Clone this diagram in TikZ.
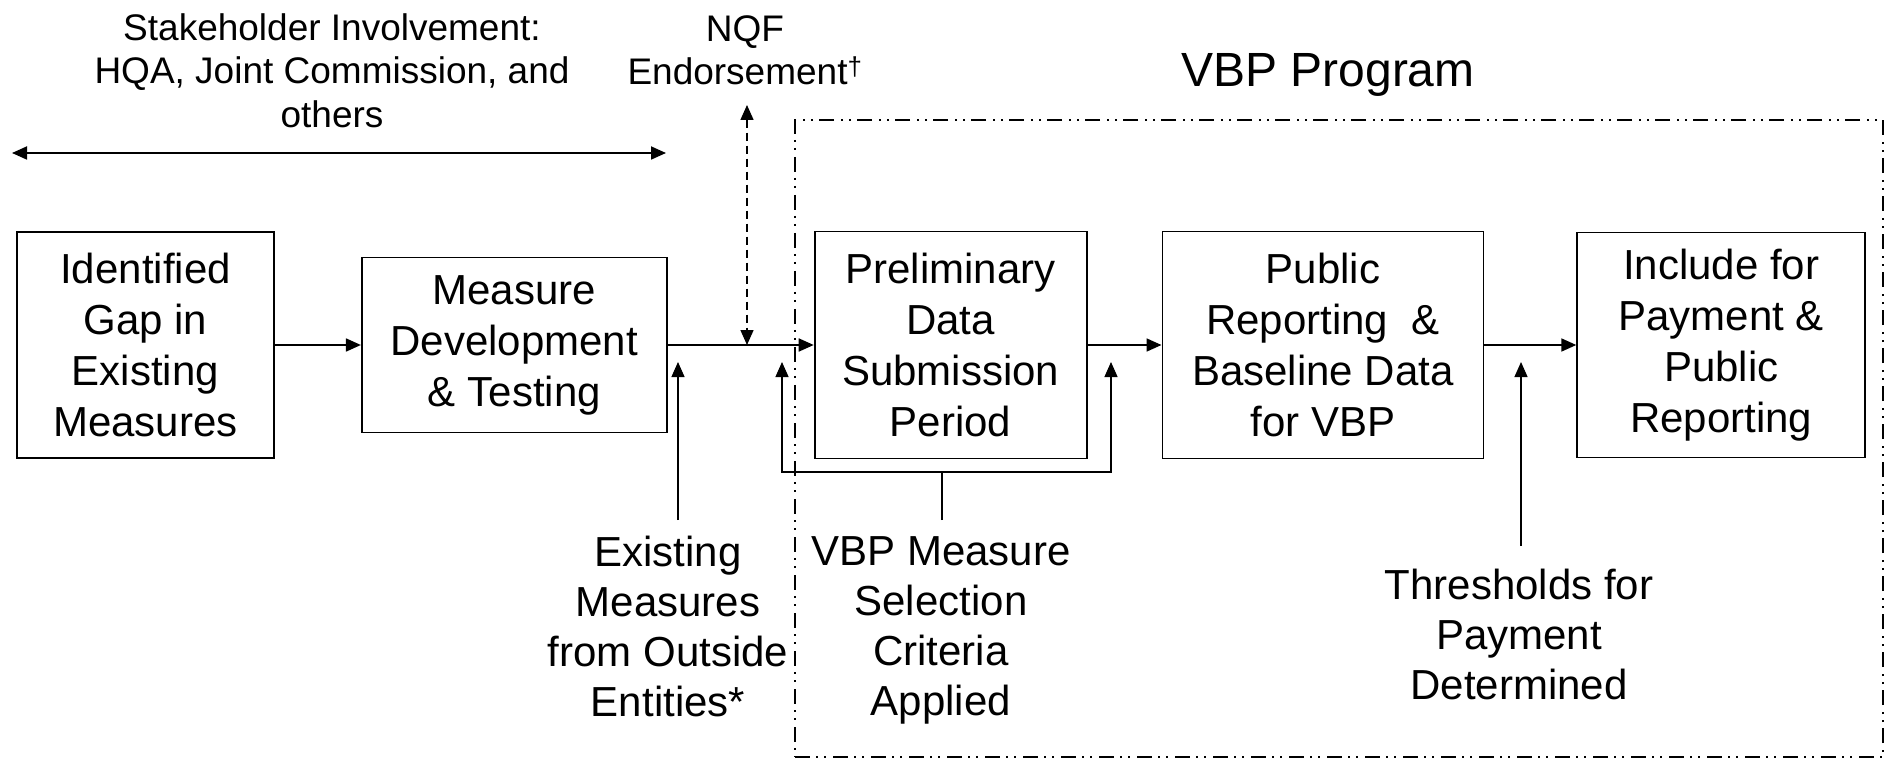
\documentclass[tikz,border=0pt]{standalone}
\usepackage{fontspec}
\setmainfont{Liberation Sans}
\usetikzlibrary{arrows.meta, positioning}
\tikzstyle{process} = [rectangle, draw=black, line width=1.8pt, fill=white, inner sep=0pt, align=center, font=\fontsize{42}{51}\selectfont]
\tikzstyle{note} = [inner sep=0pt, align=center, font=\fontsize{42}{50}\selectfont]
\tikzstyle{topnote} = [inner sep=0pt, align=center, font=\fontsize{37}{43.5}\selectfont]
\tikzstyle{arrow} = [line width=1.8pt, -{Triangle[length=15pt, width=13pt]}]
\tikzstyle{twoway} = [line width=1.8pt, {Triangle[length=15pt, width=13pt]}-{Triangle[length=15pt, width=13pt]}]
\tikzstyle{thinarrow} = [line width=1.2pt, -{Triangle[length=15pt, width=13pt]}]
\tikzstyle{thinline} = [line width=1.2pt]
\tikzstyle{feedback} = [line width=1.2pt, {Triangle[length=15pt, width=13pt]}-{Triangle[length=15pt, width=13pt]}]
\tikzstyle{endorse} = [line width=1.5pt, dash pattern=on 8pt off 5pt, {Triangle[length=15pt, width=13pt]}-{Triangle[length=15pt, width=13pt]}]
\tikzstyle{programframe} = [rectangle, draw=black, line width=1.8pt, dash pattern=on 15pt off 6pt on 2pt off 6pt on 2pt off 7pt, minimum width=1088pt, minimum height=637pt, inner sep=0pt]

\begin{document}
\begin{tikzpicture}[x=1pt, y=-1pt]
        \useasboundingbox (0,0) rectangle (1890,759);

        \node (vbpframe) [programframe] at (1339,438.5) {};
        \node (vbptitle) [anchor=base, inner sep=0pt, font=\fontsize{48}{56}\selectfont] at (1328,87) {VBP Program};

        \node (gap) [process, minimum width=257pt, minimum height=226pt] at (145.5,345) {Identified\\Gap in\\Existing\\Measures};
        \node (dev) [process, minimum width=305pt, minimum height=175pt, right=86pt of gap] {Measure\\Development\\\& Testing};
        \node (prelim) [process, minimum width=272pt, minimum height=227pt, right=146pt of dev] {Preliminary\\Data\\Submission\\Period};
        \node (public) [process, minimum width=321pt, minimum height=227pt, right=74pt of prelim] {Public\\Reporting\ \ \&\\Baseline Data\\for VBP};
        \node (include) [process, minimum width=288pt, minimum height=225pt, right=92pt of public] {Include for\\Payment \&\\Public\\Reporting};

        \node (stake) [topnote, anchor=north] at (332,13) {Stakeholder Involvement:\\HQA, Joint Commission, and\\others};
        \node (nqf) [topnote, anchor=north] at (745,15) {NQF\\Endorsement\textsuperscript{\textdagger}};
        \node (existing) [note, anchor=north] at (668,536) {Existing\\Measures\\from Outside\\Entities*};
        \node (criteria) [note, anchor=north] at (941,536) {VBP Measure\\Selection\\Criteria\\Applied};
        \node (thresh) [note, anchor=north] at (1519,569) {Thresholds for\\Payment\\Determined};

        \coordinate (stake-l) at (12,153);
        \coordinate (stake-r) at (666,153);
        \coordinate (nqf-top) at (747,105);
        \coordinate (exist-foot) at (678,520);
        \coordinate (exist-tip) at (678,362);
        \coordinate (crit-foot) at (942,520);
        \coordinate (crit-join) at (942,472);
        \coordinate (fb-l) at (782,472);
        \coordinate (fb-r) at (1111,472);
        \coordinate (thresh-foot) at (1521,546);
        \coordinate (thresh-tip) at (1521,362);

        \draw [arrow] (gap) -- (dev);
        \draw [arrow] (dev) -- (prelim);
        \draw [arrow] (prelim) -- (public);
        \draw [arrow] (public) -- (include);
        \draw [twoway] (stake-l) -- (stake-r);
        \draw [endorse] (nqf-top) -- (nqf-top |- dev.east);
        \draw [thinarrow] (exist-foot) -- (exist-tip);
        \draw [thinline] (crit-foot) -- (crit-join);
        \draw [feedback] (fb-l |- exist-tip) -- (fb-l) -- (fb-r) -- (fb-r |- exist-tip);
        \draw [thinarrow] (thresh-foot) -- (thresh-tip);
\end{tikzpicture}
\end{document}
